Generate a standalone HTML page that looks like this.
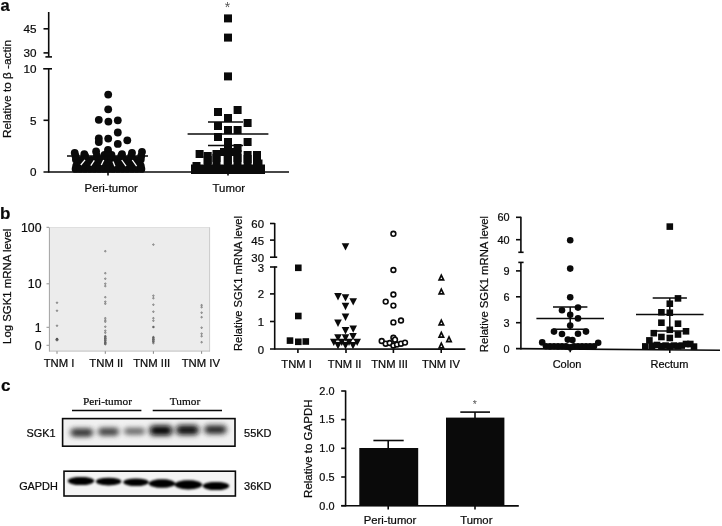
<!DOCTYPE html>
<html lang="en">
<head>
<meta charset="utf-8">
<title>SGK1 expression figure</title>
<style>
html,body{margin:0;padding:0;background:#fff;}
body{width:722px;height:526px;overflow:hidden;}
svg{display:block;font-family:"Liberation Sans", sans-serif;}
text{stroke:#0a0a0a;stroke-width:0.22px;}
text.ast{stroke:none;}
</style>
</head>
<body>
<svg width="722" height="526" viewBox="0 0 722 526">
<defs>
<filter id="blur0" x="-30%" y="-80%" width="160%" height="260%"><feGaussianBlur stdDeviation="2.2"/></filter>
<filter id="blur1" x="-30%" y="-80%" width="160%" height="260%"><feGaussianBlur stdDeviation="2.5 1.9"/></filter>
<filter id="blur2" x="-20%" y="-60%" width="140%" height="220%"><feGaussianBlur stdDeviation="1.0 0.8"/></filter>
</defs>
<rect width="722" height="526" fill="#fff"/>
<g id="panel-a">
<text x="0.6" y="11.3" font-size="16.5" text-anchor="start" fill="#0a0a0a" font-weight="bold">a</text>
<text x="10.8" y="89.0" font-size="11.8" text-anchor="middle" fill="#0a0a0a" transform="rotate(-90 10.8 89.0)">Relative to β -actin</text>
<line x1="48.7" y1="12.0" x2="48.7" y2="56.6" stroke="#0a0a0a" stroke-width="1.6"/>
<line x1="43.5" y1="28.8" x2="48.7" y2="28.8" stroke="#0a0a0a" stroke-width="1.6"/>
<line x1="43.5" y1="52.9" x2="48.7" y2="52.9" stroke="#0a0a0a" stroke-width="1.6"/>
<line x1="45.4" y1="56.9" x2="52.0" y2="56.9" stroke="#0a0a0a" stroke-width="1.6"/>
<line x1="48.7" y1="68.5" x2="48.7" y2="172.6" stroke="#0a0a0a" stroke-width="1.6"/>
<line x1="43.2" y1="68.8" x2="52.0" y2="68.8" stroke="#0a0a0a" stroke-width="1.6"/>
<line x1="43.5" y1="120.3" x2="48.7" y2="120.3" stroke="#0a0a0a" stroke-width="1.6"/>
<line x1="43.5" y1="172.0" x2="289.0" y2="172.0" stroke="#0a0a0a" stroke-width="1.7"/>
<text x="36.5" y="33.1" font-size="11.7" text-anchor="end" fill="#0a0a0a">45</text>
<text x="36.5" y="57.1" font-size="11.7" text-anchor="end" fill="#0a0a0a">30</text>
<text x="36.5" y="73.1" font-size="11.7" text-anchor="end" fill="#0a0a0a">10</text>
<text x="36.5" y="124.5" font-size="11.7" text-anchor="end" fill="#0a0a0a">5</text>
<text x="36.5" y="176.2" font-size="11.7" text-anchor="end" fill="#0a0a0a">0</text>
<line x1="108.0" y1="172.0" x2="108.0" y2="175.6" stroke="#0a0a0a" stroke-width="1.6"/>
<line x1="228.0" y1="172.0" x2="228.0" y2="175.4" stroke="#0a0a0a" stroke-width="1.6"/>
<text x="111.2" y="191.7" font-size="11.4" text-anchor="middle" fill="#0a0a0a">Peri-tumor</text>
<text x="228.8" y="191.7" font-size="11.4" text-anchor="middle" fill="#0a0a0a">Tumor</text>
<circle cx="108.2" cy="94.6" r="3.9" fill="#0a0a0a"/>
<circle cx="108.2" cy="109.3" r="3.9" fill="#0a0a0a"/>
<circle cx="98.8" cy="119.8" r="3.9" fill="#0a0a0a"/>
<circle cx="108.4" cy="121.6" r="3.9" fill="#0a0a0a"/>
<circle cx="117.8" cy="120.3" r="3.9" fill="#0a0a0a"/>
<circle cx="117.8" cy="132.5" r="3.9" fill="#0a0a0a"/>
<circle cx="98.8" cy="138.4" r="3.9" fill="#0a0a0a"/>
<circle cx="98.8" cy="142.0" r="3.9" fill="#0a0a0a"/>
<circle cx="108.2" cy="138.6" r="3.9" fill="#0a0a0a"/>
<circle cx="127.3" cy="140.3" r="3.9" fill="#0a0a0a"/>
<circle cx="117.8" cy="143.9" r="3.9" fill="#0a0a0a"/>
<circle cx="108.0" cy="149.8" r="3.9" fill="#0a0a0a"/>
<circle cx="74.7" cy="152.8" r="3.9" fill="#0a0a0a"/>
<circle cx="84.3" cy="154.2" r="3.9" fill="#0a0a0a"/>
<circle cx="96.1" cy="151.4" r="3.9" fill="#0a0a0a"/>
<circle cx="122.0" cy="154.2" r="3.9" fill="#0a0a0a"/>
<circle cx="132.0" cy="152.8" r="3.9" fill="#0a0a0a"/>
<circle cx="142.0" cy="151.8" r="3.9" fill="#0a0a0a"/>
<circle cx="108.0" cy="152.5" r="3.9" fill="#0a0a0a"/>
<circle cx="104.5" cy="155.0" r="3.9" fill="#0a0a0a"/>
<circle cx="111.5" cy="155.0" r="3.9" fill="#0a0a0a"/>
<circle cx="75.5" cy="156.0" r="3.9" fill="#0a0a0a"/>
<circle cx="75.9" cy="159.5" r="3.9" fill="#0a0a0a"/>
<circle cx="85.1" cy="156.0" r="3.9" fill="#0a0a0a"/>
<circle cx="85.5" cy="159.5" r="3.9" fill="#0a0a0a"/>
<circle cx="96.9" cy="156.0" r="3.9" fill="#0a0a0a"/>
<circle cx="97.3" cy="159.5" r="3.9" fill="#0a0a0a"/>
<circle cx="108.0" cy="156.0" r="3.9" fill="#0a0a0a"/>
<circle cx="108.0" cy="159.5" r="3.9" fill="#0a0a0a"/>
<circle cx="121.2" cy="156.0" r="3.9" fill="#0a0a0a"/>
<circle cx="120.8" cy="159.5" r="3.9" fill="#0a0a0a"/>
<circle cx="131.2" cy="156.0" r="3.9" fill="#0a0a0a"/>
<circle cx="130.8" cy="159.5" r="3.9" fill="#0a0a0a"/>
<circle cx="141.2" cy="156.0" r="3.9" fill="#0a0a0a"/>
<circle cx="140.8" cy="159.5" r="3.9" fill="#0a0a0a"/>
<circle cx="81.5" cy="159.8" r="3.9" fill="#0a0a0a"/>
<circle cx="86.4" cy="159.8" r="3.9" fill="#0a0a0a"/>
<circle cx="91.3" cy="159.8" r="3.9" fill="#0a0a0a"/>
<circle cx="96.2" cy="159.8" r="3.9" fill="#0a0a0a"/>
<circle cx="101.1" cy="159.8" r="3.9" fill="#0a0a0a"/>
<circle cx="106.0" cy="159.8" r="3.9" fill="#0a0a0a"/>
<circle cx="111.0" cy="159.8" r="3.9" fill="#0a0a0a"/>
<circle cx="115.9" cy="159.8" r="3.9" fill="#0a0a0a"/>
<circle cx="120.8" cy="159.8" r="3.9" fill="#0a0a0a"/>
<circle cx="125.7" cy="159.8" r="3.9" fill="#0a0a0a"/>
<circle cx="130.6" cy="159.8" r="3.9" fill="#0a0a0a"/>
<circle cx="135.5" cy="159.8" r="3.9" fill="#0a0a0a"/>
<circle cx="78.6" cy="162.8" r="3.9" fill="#0a0a0a"/>
<circle cx="83.2" cy="162.8" r="3.9" fill="#0a0a0a"/>
<circle cx="87.8" cy="162.8" r="3.9" fill="#0a0a0a"/>
<circle cx="92.4" cy="162.8" r="3.9" fill="#0a0a0a"/>
<circle cx="97.0" cy="162.8" r="3.9" fill="#0a0a0a"/>
<circle cx="101.6" cy="162.8" r="3.9" fill="#0a0a0a"/>
<circle cx="106.2" cy="162.8" r="3.9" fill="#0a0a0a"/>
<circle cx="110.8" cy="162.8" r="3.9" fill="#0a0a0a"/>
<circle cx="115.4" cy="162.8" r="3.9" fill="#0a0a0a"/>
<circle cx="120.0" cy="162.8" r="3.9" fill="#0a0a0a"/>
<circle cx="124.6" cy="162.8" r="3.9" fill="#0a0a0a"/>
<circle cx="129.2" cy="162.8" r="3.9" fill="#0a0a0a"/>
<circle cx="133.8" cy="162.8" r="3.9" fill="#0a0a0a"/>
<circle cx="138.4" cy="162.8" r="3.9" fill="#0a0a0a"/>
<circle cx="76.2" cy="165.8" r="3.9" fill="#0a0a0a"/>
<circle cx="80.8" cy="165.8" r="3.9" fill="#0a0a0a"/>
<circle cx="85.4" cy="165.8" r="3.9" fill="#0a0a0a"/>
<circle cx="90.0" cy="165.8" r="3.9" fill="#0a0a0a"/>
<circle cx="94.7" cy="165.8" r="3.9" fill="#0a0a0a"/>
<circle cx="99.3" cy="165.8" r="3.9" fill="#0a0a0a"/>
<circle cx="103.9" cy="165.8" r="3.9" fill="#0a0a0a"/>
<circle cx="108.5" cy="165.8" r="3.9" fill="#0a0a0a"/>
<circle cx="113.1" cy="165.8" r="3.9" fill="#0a0a0a"/>
<circle cx="117.7" cy="165.8" r="3.9" fill="#0a0a0a"/>
<circle cx="122.3" cy="165.8" r="3.9" fill="#0a0a0a"/>
<circle cx="127.0" cy="165.8" r="3.9" fill="#0a0a0a"/>
<circle cx="131.6" cy="165.8" r="3.9" fill="#0a0a0a"/>
<circle cx="136.2" cy="165.8" r="3.9" fill="#0a0a0a"/>
<circle cx="140.8" cy="165.8" r="3.9" fill="#0a0a0a"/>
<circle cx="75.6" cy="168.9" r="3.9" fill="#0a0a0a"/>
<circle cx="80.3" cy="168.9" r="3.9" fill="#0a0a0a"/>
<circle cx="85.0" cy="168.9" r="3.9" fill="#0a0a0a"/>
<circle cx="89.7" cy="168.9" r="3.9" fill="#0a0a0a"/>
<circle cx="94.4" cy="168.9" r="3.9" fill="#0a0a0a"/>
<circle cx="99.1" cy="168.9" r="3.9" fill="#0a0a0a"/>
<circle cx="103.8" cy="168.9" r="3.9" fill="#0a0a0a"/>
<circle cx="108.5" cy="168.9" r="3.9" fill="#0a0a0a"/>
<circle cx="113.2" cy="168.9" r="3.9" fill="#0a0a0a"/>
<circle cx="117.9" cy="168.9" r="3.9" fill="#0a0a0a"/>
<circle cx="122.6" cy="168.9" r="3.9" fill="#0a0a0a"/>
<circle cx="127.3" cy="168.9" r="3.9" fill="#0a0a0a"/>
<circle cx="132.0" cy="168.9" r="3.9" fill="#0a0a0a"/>
<circle cx="136.7" cy="168.9" r="3.9" fill="#0a0a0a"/>
<circle cx="141.4" cy="168.9" r="3.9" fill="#0a0a0a"/>
<line x1="85.0" y1="159.8" x2="80.8" y2="165.0" stroke="#fff" stroke-width="1.3"/>
<line x1="94.3" y1="160.4" x2="90.8" y2="165.6" stroke="#fff" stroke-width="1.3"/>
<line x1="103.7" y1="160.0" x2="101.3" y2="165.0" stroke="#fff" stroke-width="1.3"/>
<line x1="113.0" y1="161.6" x2="114.9" y2="166.2" stroke="#fff" stroke-width="1.3"/>
<line x1="121.7" y1="160.0" x2="126.0" y2="166.2" stroke="#fff" stroke-width="1.3"/>
<line x1="132.3" y1="160.0" x2="136.6" y2="166.2" stroke="#fff" stroke-width="1.3"/>
<line x1="67.0" y1="156.0" x2="148.0" y2="156.0" stroke="#0a0a0a" stroke-width="1.5"/>
<rect x="224.0" y="14.4" width="8" height="8" fill="#0a0a0a"/>
<rect x="224.0" y="33.6" width="8" height="8" fill="#0a0a0a"/>
<rect x="224.0" y="72.4" width="8" height="8" fill="#0a0a0a"/>
<rect x="214.0" y="108.0" width="8" height="8" fill="#0a0a0a"/>
<rect x="233.6" y="106.0" width="8" height="8" fill="#0a0a0a"/>
<rect x="224.0" y="114.0" width="8" height="8" fill="#0a0a0a"/>
<rect x="243.6" y="119.0" width="8" height="8" fill="#0a0a0a"/>
<rect x="214.0" y="122.0" width="8" height="8" fill="#0a0a0a"/>
<rect x="224.0" y="126.0" width="8" height="8" fill="#0a0a0a"/>
<rect x="233.6" y="126.0" width="8" height="8" fill="#0a0a0a"/>
<rect x="214.0" y="133.0" width="8" height="8" fill="#0a0a0a"/>
<rect x="224.0" y="138.0" width="8" height="8" fill="#0a0a0a"/>
<rect x="243.6" y="138.0" width="8" height="8" fill="#0a0a0a"/>
<rect x="233.6" y="144.0" width="8" height="8" fill="#0a0a0a"/>
<rect x="220.0" y="148.0" width="8" height="8" fill="#0a0a0a"/>
<rect x="195.6" y="150.0" width="8" height="8" fill="#0a0a0a"/>
<rect x="228.0" y="148.0" width="8" height="8" fill="#0a0a0a"/>
<rect x="224.0" y="143.0" width="8" height="8" fill="#0a0a0a"/>
<rect x="203.7" y="152.0" width="8" height="8" fill="#0a0a0a"/>
<rect x="203.7" y="156.0" width="8" height="8" fill="#0a0a0a"/>
<rect x="203.7" y="160.0" width="8" height="8" fill="#0a0a0a"/>
<rect x="212.5" y="150.0" width="8" height="8" fill="#0a0a0a"/>
<rect x="212.5" y="154.0" width="8" height="8" fill="#0a0a0a"/>
<rect x="212.5" y="158.0" width="8" height="8" fill="#0a0a0a"/>
<rect x="223.8" y="152.0" width="8" height="8" fill="#0a0a0a"/>
<rect x="223.8" y="156.0" width="8" height="8" fill="#0a0a0a"/>
<rect x="223.8" y="160.0" width="8" height="8" fill="#0a0a0a"/>
<rect x="233.5" y="150.0" width="8" height="8" fill="#0a0a0a"/>
<rect x="233.5" y="154.0" width="8" height="8" fill="#0a0a0a"/>
<rect x="233.5" y="158.0" width="8" height="8" fill="#0a0a0a"/>
<rect x="243.6" y="151.0" width="8" height="8" fill="#0a0a0a"/>
<rect x="243.6" y="155.0" width="8" height="8" fill="#0a0a0a"/>
<rect x="243.6" y="159.0" width="8" height="8" fill="#0a0a0a"/>
<rect x="253.0" y="151.0" width="8" height="8" fill="#0a0a0a"/>
<rect x="253.0" y="155.0" width="8" height="8" fill="#0a0a0a"/>
<rect x="253.0" y="159.0" width="8" height="8" fill="#0a0a0a"/>
<rect x="254.5" y="159.5" width="8" height="8" fill="#0a0a0a"/>
<rect x="192.5" y="162.0" width="8" height="8" fill="#0a0a0a"/>
<rect x="191" y="164.5" width="74" height="9.5" fill="#0a0a0a"/>
<line x1="208.0" y1="122.0" x2="243.0" y2="122.0" stroke="#0a0a0a" stroke-width="1.5"/>
<line x1="187.6" y1="134.0" x2="268.4" y2="134.0" stroke="#0a0a0a" stroke-width="1.5"/>
<line x1="208.0" y1="145.4" x2="243.0" y2="145.4" stroke="#0a0a0a" stroke-width="1.5"/>
<text x="227.4" y="11.6" font-size="14" text-anchor="middle" fill="#555" class="ast">*</text>
</g>
<g id="panel-b1">
<text x="0.0" y="219.0" font-size="17" text-anchor="start" fill="#0a0a0a" font-weight="bold">b</text>
<rect x="49" y="227.3" width="160.8" height="124" fill="#ececec"/>
<line x1="49.4" y1="227.0" x2="49.4" y2="351.5" stroke="#9a9a9a" stroke-width="0.9"/>
<line x1="49.0" y1="351.1" x2="210.0" y2="351.1" stroke="#b4b4b4" stroke-width="0.8"/>
<line x1="209.6" y1="227.3" x2="209.6" y2="351.4" stroke="#c0c0c0" stroke-width="0.8"/>
<line x1="49.0" y1="227.5" x2="210.0" y2="227.5" stroke="#d4d4d4" stroke-width="0.6"/>
<text x="11.0" y="286.3" font-size="11.4" text-anchor="middle" fill="#0a0a0a" transform="rotate(-90 11.0 286.3)">Log SGK1 mRNA level</text>
<text x="41.5" y="231.6" font-size="12.3" text-anchor="end" fill="#0a0a0a">100</text>
<line x1="46.5" y1="227.3" x2="49.0" y2="227.3" stroke="#777" stroke-width="0.8"/>
<text x="41.5" y="288.1" font-size="12.3" text-anchor="end" fill="#0a0a0a">10</text>
<line x1="46.5" y1="283.8" x2="49.0" y2="283.8" stroke="#777" stroke-width="0.8"/>
<text x="41.5" y="331.6" font-size="12.3" text-anchor="end" fill="#0a0a0a">1</text>
<line x1="46.5" y1="327.3" x2="49.0" y2="327.3" stroke="#777" stroke-width="0.8"/>
<text x="41.5" y="349.6" font-size="12.3" text-anchor="end" fill="#0a0a0a">0</text>
<line x1="46.5" y1="345.3" x2="49.0" y2="345.3" stroke="#777" stroke-width="0.8"/>
<line x1="57.0" y1="351.3" x2="57.0" y2="353.8" stroke="#777" stroke-width="0.9"/>
<text x="59.0" y="367.1" font-size="11.3" text-anchor="middle" fill="#0a0a0a">TNM I</text>
<line x1="105.3" y1="351.3" x2="105.3" y2="353.8" stroke="#777" stroke-width="0.9"/>
<text x="106.3" y="367.1" font-size="11.3" text-anchor="middle" fill="#0a0a0a">TNM II</text>
<line x1="153.4" y1="351.3" x2="153.4" y2="353.8" stroke="#777" stroke-width="0.9"/>
<text x="151.7" y="367.1" font-size="11.3" text-anchor="middle" fill="#0a0a0a">TNM III</text>
<line x1="201.6" y1="351.3" x2="201.6" y2="353.8" stroke="#777" stroke-width="0.9"/>
<text x="200.8" y="367.1" font-size="11.3" text-anchor="middle" fill="#0a0a0a">TNM IV</text>
<circle cx="57.0" cy="302.7" r="0.75" fill="#c4c4c4" stroke="#707070" stroke-width="0.8"/>
<circle cx="57.0" cy="310.7" r="0.75" fill="#c4c4c4" stroke="#707070" stroke-width="0.8"/>
<circle cx="57.0" cy="325.7" r="0.75" fill="#c4c4c4" stroke="#707070" stroke-width="0.8"/>
<circle cx="57.0" cy="339.7" r="1.2" fill="#c4c4c4" stroke="#444" stroke-width="0.8"/>
<circle cx="57" cy="339" r="1.2" fill="#555"/>
<circle cx="105.3" cy="251.2" r="0.75" fill="#c4c4c4" stroke="#707070" stroke-width="0.8"/>
<circle cx="105.3" cy="273.2" r="0.75" fill="#c4c4c4" stroke="#707070" stroke-width="0.8"/>
<circle cx="105.3" cy="278.7" r="0.75" fill="#c4c4c4" stroke="#707070" stroke-width="0.8"/>
<circle cx="105.3" cy="283.7" r="0.75" fill="#c4c4c4" stroke="#707070" stroke-width="0.8"/>
<circle cx="105.3" cy="286.1" r="0.75" fill="#c4c4c4" stroke="#707070" stroke-width="0.8"/>
<circle cx="105.3" cy="297.2" r="0.75" fill="#c4c4c4" stroke="#707070" stroke-width="0.8"/>
<circle cx="105.3" cy="301.7" r="0.75" fill="#c4c4c4" stroke="#707070" stroke-width="0.8"/>
<circle cx="105.3" cy="303.7" r="0.75" fill="#c4c4c4" stroke="#707070" stroke-width="0.8"/>
<circle cx="105.3" cy="318.2" r="0.75" fill="#c4c4c4" stroke="#707070" stroke-width="0.8"/>
<circle cx="105.3" cy="320.2" r="0.75" fill="#c4c4c4" stroke="#707070" stroke-width="0.8"/>
<circle cx="105.3" cy="321.7" r="0.75" fill="#c4c4c4" stroke="#707070" stroke-width="0.8"/>
<circle cx="105.3" cy="326.7" r="0.75" fill="#c4c4c4" stroke="#707070" stroke-width="0.8"/>
<circle cx="105.3" cy="330.7" r="0.75" fill="#c4c4c4" stroke="#707070" stroke-width="0.8"/>
<circle cx="105.3" cy="332.7" r="0.75" fill="#c4c4c4" stroke="#707070" stroke-width="0.8"/>
<circle cx="105.3" cy="336.7" r="0.75" fill="#c4c4c4" stroke="#707070" stroke-width="0.8"/>
<circle cx="105.3" cy="338.7" r="0.75" fill="#c4c4c4" stroke="#707070" stroke-width="0.8"/>
<circle cx="105.3" cy="340.7" r="0.75" fill="#c4c4c4" stroke="#707070" stroke-width="0.8"/>
<circle cx="105.3" cy="342.7" r="0.75" fill="#c4c4c4" stroke="#707070" stroke-width="0.8"/>
<circle cx="105.3" cy="344.2" r="0.75" fill="#c4c4c4" stroke="#707070" stroke-width="0.8"/>
<circle cx="153.4" cy="244.6" r="0.75" fill="#c4c4c4" stroke="#707070" stroke-width="0.8"/>
<circle cx="153.4" cy="295.7" r="0.75" fill="#c4c4c4" stroke="#707070" stroke-width="0.8"/>
<circle cx="153.4" cy="298.2" r="0.75" fill="#c4c4c4" stroke="#707070" stroke-width="0.8"/>
<circle cx="153.4" cy="304.7" r="0.75" fill="#c4c4c4" stroke="#707070" stroke-width="0.8"/>
<circle cx="153.4" cy="311.7" r="0.75" fill="#c4c4c4" stroke="#707070" stroke-width="0.8"/>
<circle cx="153.4" cy="318.2" r="0.75" fill="#c4c4c4" stroke="#707070" stroke-width="0.8"/>
<circle cx="153.4" cy="320.7" r="0.75" fill="#c4c4c4" stroke="#707070" stroke-width="0.8"/>
<circle cx="153.4" cy="337.7" r="0.75" fill="#c4c4c4" stroke="#707070" stroke-width="0.8"/>
<circle cx="153.4" cy="339.7" r="0.75" fill="#c4c4c4" stroke="#707070" stroke-width="0.8"/>
<circle cx="153.4" cy="341.7" r="0.75" fill="#c4c4c4" stroke="#707070" stroke-width="0.8"/>
<circle cx="153.4" cy="343.2" r="0.75" fill="#c4c4c4" stroke="#707070" stroke-width="0.8"/>
<circle cx="153.4" cy="327" r="1.2" fill="#666"/>
<circle cx="201.6" cy="305.2" r="0.75" fill="#c4c4c4" stroke="#707070" stroke-width="0.8"/>
<circle cx="201.6" cy="307.2" r="0.75" fill="#c4c4c4" stroke="#707070" stroke-width="0.8"/>
<circle cx="201.6" cy="312.7" r="0.75" fill="#c4c4c4" stroke="#707070" stroke-width="0.8"/>
<circle cx="201.6" cy="317.2" r="0.75" fill="#c4c4c4" stroke="#707070" stroke-width="0.8"/>
<circle cx="201.6" cy="327.7" r="0.75" fill="#c4c4c4" stroke="#707070" stroke-width="0.8"/>
<circle cx="201.6" cy="333.7" r="0.75" fill="#c4c4c4" stroke="#707070" stroke-width="0.8"/>
<circle cx="201.6" cy="336.2" r="0.75" fill="#c4c4c4" stroke="#707070" stroke-width="0.8"/>
<circle cx="201.6" cy="342.2" r="0.75" fill="#c4c4c4" stroke="#707070" stroke-width="0.8"/>
<circle cx="105.3" cy="336.1" r="0.75" fill="#c4c4c4" stroke="#4a4a4a" stroke-width="0.8"/>
<circle cx="105.3" cy="337.3" r="0.75" fill="#c4c4c4" stroke="#4a4a4a" stroke-width="0.8"/>
<circle cx="105.3" cy="338.5" r="0.75" fill="#c4c4c4" stroke="#4a4a4a" stroke-width="0.8"/>
<circle cx="105.3" cy="339.7" r="0.75" fill="#c4c4c4" stroke="#4a4a4a" stroke-width="0.8"/>
<circle cx="105.3" cy="340.9" r="0.75" fill="#c4c4c4" stroke="#4a4a4a" stroke-width="0.8"/>
<circle cx="105.3" cy="342.1" r="0.75" fill="#c4c4c4" stroke="#4a4a4a" stroke-width="0.8"/>
<circle cx="105.3" cy="343.1" r="0.75" fill="#c4c4c4" stroke="#4a4a4a" stroke-width="0.8"/>
<circle cx="105.3" cy="343.9" r="0.75" fill="#c4c4c4" stroke="#4a4a4a" stroke-width="0.8"/>
<circle cx="153.4" cy="337.1" r="0.75" fill="#c4c4c4" stroke="#4a4a4a" stroke-width="0.8"/>
<circle cx="153.4" cy="338.3" r="0.75" fill="#c4c4c4" stroke="#4a4a4a" stroke-width="0.8"/>
<circle cx="153.4" cy="339.5" r="0.75" fill="#c4c4c4" stroke="#4a4a4a" stroke-width="0.8"/>
<circle cx="153.4" cy="340.7" r="0.75" fill="#c4c4c4" stroke="#4a4a4a" stroke-width="0.8"/>
<circle cx="153.4" cy="341.9" r="0.75" fill="#c4c4c4" stroke="#4a4a4a" stroke-width="0.8"/>
</g>
<g id="panel-b2">
<text x="242.3" y="283.5" font-size="11.2" text-anchor="middle" fill="#0a0a0a" transform="rotate(-90 242.3 283.5)">Relative SGK1 mRNA level</text>
<line x1="274.7" y1="223.0" x2="274.7" y2="257.5" stroke="#0a0a0a" stroke-width="1.6"/>
<line x1="270.0" y1="223.5" x2="274.7" y2="223.5" stroke="#0a0a0a" stroke-width="1.6"/>
<line x1="270.0" y1="240.1" x2="274.7" y2="240.1" stroke="#0a0a0a" stroke-width="1.6"/>
<line x1="270.0" y1="257.2" x2="277.2" y2="257.2" stroke="#0a0a0a" stroke-width="1.6"/>
<line x1="274.7" y1="266.5" x2="274.7" y2="349.6" stroke="#0a0a0a" stroke-width="1.6"/>
<line x1="270.0" y1="267.0" x2="277.2" y2="267.0" stroke="#0a0a0a" stroke-width="1.6"/>
<line x1="270.0" y1="293.9" x2="274.7" y2="293.9" stroke="#0a0a0a" stroke-width="1.6"/>
<line x1="270.0" y1="321.5" x2="274.7" y2="321.5" stroke="#0a0a0a" stroke-width="1.6"/>
<line x1="270.0" y1="349.0" x2="465.4" y2="349.1" stroke="#0a0a0a" stroke-width="1.6"/>
<text x="264.0" y="228.0" font-size="11.4" text-anchor="end" fill="#0a0a0a">60</text>
<text x="264.0" y="244.6" font-size="11.4" text-anchor="end" fill="#0a0a0a">45</text>
<text x="264.0" y="261.7" font-size="11.4" text-anchor="end" fill="#0a0a0a">30</text>
<text x="264.0" y="272.0" font-size="11.4" text-anchor="end" fill="#0a0a0a">3</text>
<text x="264.0" y="298.4" font-size="11.4" text-anchor="end" fill="#0a0a0a">2</text>
<text x="264.0" y="326.0" font-size="11.4" text-anchor="end" fill="#0a0a0a">1</text>
<text x="264.0" y="353.5" font-size="11.4" text-anchor="end" fill="#0a0a0a">0</text>
<line x1="297.9" y1="349.0" x2="297.9" y2="353.0" stroke="#0a0a0a" stroke-width="1.6"/>
<text x="296.6" y="367.8" font-size="11.2" text-anchor="middle" fill="#0a0a0a">TNM I</text>
<line x1="346.0" y1="349.0" x2="346.0" y2="353.0" stroke="#0a0a0a" stroke-width="1.6"/>
<text x="344.6" y="367.8" font-size="11.2" text-anchor="middle" fill="#0a0a0a">TNM II</text>
<line x1="393.4" y1="349.0" x2="393.4" y2="353.0" stroke="#0a0a0a" stroke-width="1.6"/>
<text x="389.6" y="367.8" font-size="11.2" text-anchor="middle" fill="#0a0a0a">TNM III</text>
<line x1="441.2" y1="349.0" x2="441.2" y2="353.0" stroke="#0a0a0a" stroke-width="1.6"/>
<text x="440.9" y="367.8" font-size="11.2" text-anchor="middle" fill="#0a0a0a">TNM IV</text>
<rect x="295.0" y="264.5" width="6.6" height="6.6" fill="#0a0a0a"/>
<rect x="295.0" y="312.7" width="6.6" height="6.6" fill="#0a0a0a"/>
<rect x="286.7" y="337.3" width="6.6" height="6.6" fill="#0a0a0a"/>
<rect x="295.0" y="338.5" width="6.6" height="6.6" fill="#0a0a0a"/>
<rect x="302.5" y="338.2" width="6.6" height="6.6" fill="#0a0a0a"/>
<polygon points="341.7,243.2 349.3,243.2 345.5,250.6" fill="#0a0a0a"/>
<polygon points="334.2,293.0 341.8,293.0 338.0,300.4" fill="#0a0a0a"/>
<polygon points="341.7,294.2 349.3,294.2 345.5,301.6" fill="#0a0a0a"/>
<polygon points="349.4,298.2 357.0,298.2 353.2,305.6" fill="#0a0a0a"/>
<polygon points="341.7,302.8 349.3,302.8 345.5,310.2" fill="#0a0a0a"/>
<polygon points="341.7,313.5 349.3,313.5 345.5,320.9" fill="#0a0a0a"/>
<polygon points="334.2,319.6 341.8,319.6 338.0,327.0" fill="#0a0a0a"/>
<polygon points="349.4,325.4 357.0,325.4 353.2,332.8" fill="#0a0a0a"/>
<polygon points="341.7,327.0 349.3,327.0 345.5,334.4" fill="#0a0a0a"/>
<polygon points="349.2,332.9 356.8,332.9 353.0,340.3" fill="#0a0a0a"/>
<polygon points="334.2,334.2 341.8,334.2 338.0,341.6" fill="#0a0a0a"/>
<polygon points="341.7,334.2 349.3,334.2 345.5,341.6" fill="#0a0a0a"/>
<polygon points="330.0,338.7 337.6,338.7 333.8,346.1" fill="#0a0a0a"/>
<polygon points="338.0,338.7 345.6,338.7 341.8,346.1" fill="#0a0a0a"/>
<polygon points="345.2,338.7 352.8,338.7 349.0,346.1" fill="#0a0a0a"/>
<polygon points="353.4,338.7 361.0,338.7 357.2,346.1" fill="#0a0a0a"/>
<polygon points="334.2,341.9 341.8,341.9 338.0,349.3" fill="#0a0a0a"/>
<polygon points="341.7,341.9 349.3,341.9 345.5,349.3" fill="#0a0a0a"/>
<polygon points="349.2,341.9 356.8,341.9 353.0,349.3" fill="#0a0a0a"/>
<circle cx="393.4" cy="233.8" r="2.4" fill="#fff" stroke="#0a0a0a" stroke-width="1.6"/>
<circle cx="393.4" cy="270.0" r="2.4" fill="#fff" stroke="#0a0a0a" stroke-width="1.6"/>
<circle cx="393.4" cy="294.5" r="2.4" fill="#fff" stroke="#0a0a0a" stroke-width="1.6"/>
<circle cx="385.7" cy="301.6" r="2.4" fill="#fff" stroke="#0a0a0a" stroke-width="1.6"/>
<circle cx="393.4" cy="305.6" r="2.4" fill="#fff" stroke="#0a0a0a" stroke-width="1.6"/>
<circle cx="393.4" cy="322.4" r="2.4" fill="#fff" stroke="#0a0a0a" stroke-width="1.6"/>
<circle cx="401.0" cy="320.5" r="2.4" fill="#fff" stroke="#0a0a0a" stroke-width="1.6"/>
<circle cx="393.4" cy="337.8" r="2.4" fill="#fff" stroke="#0a0a0a" stroke-width="1.6"/>
<circle cx="395.0" cy="339.7" r="2.4" fill="#fff" stroke="#0a0a0a" stroke-width="1.6"/>
<circle cx="381.7" cy="341.0" r="2.4" fill="#fff" stroke="#0a0a0a" stroke-width="1.6"/>
<circle cx="385.7" cy="343.7" r="2.4" fill="#fff" stroke="#0a0a0a" stroke-width="1.6"/>
<circle cx="389.7" cy="343.0" r="2.4" fill="#fff" stroke="#0a0a0a" stroke-width="1.6"/>
<circle cx="393.4" cy="345.5" r="2.4" fill="#fff" stroke="#0a0a0a" stroke-width="1.6"/>
<circle cx="397.0" cy="344.5" r="2.4" fill="#fff" stroke="#0a0a0a" stroke-width="1.6"/>
<circle cx="401.0" cy="343.7" r="2.4" fill="#fff" stroke="#0a0a0a" stroke-width="1.6"/>
<circle cx="405.0" cy="342.6" r="2.4" fill="#fff" stroke="#0a0a0a" stroke-width="1.6"/>
<polygon points="439.1,279.9 443.6,279.9 441.3,275.2" fill="#fff" stroke="#0a0a0a" stroke-width="1.7" stroke-linejoin="miter"/>
<polygon points="439.1,293.8 443.6,293.8 441.3,289.1" fill="#fff" stroke="#0a0a0a" stroke-width="1.7" stroke-linejoin="miter"/>
<polygon points="439.1,324.9 443.6,324.9 441.3,320.2" fill="#fff" stroke="#0a0a0a" stroke-width="1.7" stroke-linejoin="miter"/>
<polygon points="439.1,337.1 443.6,337.1 441.3,332.4" fill="#fff" stroke="#0a0a0a" stroke-width="1.7" stroke-linejoin="miter"/>
<polygon points="446.8,341.6 451.2,341.6 449.0,337.0" fill="#fff" stroke="#0a0a0a" stroke-width="1.7" stroke-linejoin="miter"/>
<polygon points="439.1,347.8 443.6,347.8 441.3,343.1" fill="#fff" stroke="#0a0a0a" stroke-width="1.7" stroke-linejoin="miter"/>
</g>
<g id="panel-b3">
<text x="488.0" y="284.0" font-size="11.3" text-anchor="middle" fill="#0a0a0a" transform="rotate(-90 488.0 284.0)">Relative SGK1 mRNA level</text>
<line x1="520.9" y1="216.8" x2="520.9" y2="252.8" stroke="#0a0a0a" stroke-width="1.6"/>
<line x1="516.0" y1="217.3" x2="520.9" y2="217.3" stroke="#0a0a0a" stroke-width="1.6"/>
<line x1="516.0" y1="239.7" x2="520.9" y2="239.7" stroke="#0a0a0a" stroke-width="1.6"/>
<line x1="518.3" y1="252.3" x2="523.6" y2="252.3" stroke="#0a0a0a" stroke-width="1.6"/>
<line x1="520.9" y1="262.0" x2="520.9" y2="349.6" stroke="#0a0a0a" stroke-width="1.6"/>
<line x1="518.3" y1="262.4" x2="523.6" y2="262.4" stroke="#0a0a0a" stroke-width="1.6"/>
<line x1="516.0" y1="270.9" x2="520.9" y2="270.9" stroke="#0a0a0a" stroke-width="1.6"/>
<line x1="516.0" y1="296.8" x2="520.9" y2="296.8" stroke="#0a0a0a" stroke-width="1.6"/>
<line x1="516.0" y1="322.7" x2="520.9" y2="322.7" stroke="#0a0a0a" stroke-width="1.6"/>
<line x1="516.0" y1="348.6" x2="720.0" y2="350.2" stroke="#0a0a0a" stroke-width="1.6"/>
<text x="509.5" y="221.1" font-size="10.9" text-anchor="end" fill="#0a0a0a">60</text>
<text x="509.5" y="243.5" font-size="10.9" text-anchor="end" fill="#0a0a0a">40</text>
<text x="509.5" y="274.7" font-size="10.9" text-anchor="end" fill="#0a0a0a">9</text>
<text x="509.5" y="300.6" font-size="10.9" text-anchor="end" fill="#0a0a0a">6</text>
<text x="509.5" y="326.5" font-size="10.9" text-anchor="end" fill="#0a0a0a">3</text>
<text x="509.5" y="352.8" font-size="10.9" text-anchor="end" fill="#0a0a0a">0</text>
<line x1="570.2" y1="349.0" x2="570.2" y2="352.3" stroke="#0a0a0a" stroke-width="1.6"/>
<line x1="669.8" y1="349.6" x2="669.8" y2="353.0" stroke="#0a0a0a" stroke-width="1.6"/>
<text x="567.0" y="368.0" font-size="11" text-anchor="middle" fill="#0a0a0a">Colon</text>
<text x="669.4" y="368.0" font-size="11" text-anchor="middle" fill="#0a0a0a">Rectum</text>
<circle cx="570.2" cy="240.2" r="3.3" fill="#0a0a0a"/>
<circle cx="570.2" cy="268.6" r="3.3" fill="#0a0a0a"/>
<circle cx="570.2" cy="297.3" r="3.3" fill="#0a0a0a"/>
<circle cx="578.0" cy="307.6" r="3.3" fill="#0a0a0a"/>
<circle cx="562.0" cy="310.3" r="3.3" fill="#0a0a0a"/>
<circle cx="570.2" cy="314.8" r="3.3" fill="#0a0a0a"/>
<circle cx="578.0" cy="318.4" r="3.3" fill="#0a0a0a"/>
<circle cx="570.2" cy="325.6" r="3.3" fill="#0a0a0a"/>
<circle cx="554.0" cy="331.6" r="3.3" fill="#0a0a0a"/>
<circle cx="586.0" cy="331.6" r="3.3" fill="#0a0a0a"/>
<circle cx="562.0" cy="334.0" r="3.3" fill="#0a0a0a"/>
<circle cx="578.0" cy="333.8" r="3.3" fill="#0a0a0a"/>
<circle cx="567.8" cy="339.6" r="3.3" fill="#0a0a0a"/>
<circle cx="572.4" cy="340.0" r="3.3" fill="#0a0a0a"/>
<circle cx="542.2" cy="342.4" r="3.3" fill="#0a0a0a"/>
<circle cx="598.2" cy="342.8" r="3.3" fill="#0a0a0a"/>
<circle cx="546.0" cy="346.2" r="3.3" fill="#0a0a0a"/>
<circle cx="550.0" cy="346.4" r="3.3" fill="#0a0a0a"/>
<circle cx="554.0" cy="346.2" r="3.3" fill="#0a0a0a"/>
<circle cx="558.0" cy="346.4" r="3.3" fill="#0a0a0a"/>
<circle cx="562.0" cy="346.2" r="3.3" fill="#0a0a0a"/>
<circle cx="566.0" cy="346.4" r="3.3" fill="#0a0a0a"/>
<circle cx="570.2" cy="347.4" r="3.3" fill="#0a0a0a"/>
<circle cx="574.0" cy="346.4" r="3.3" fill="#0a0a0a"/>
<circle cx="578.0" cy="346.2" r="3.3" fill="#0a0a0a"/>
<circle cx="582.0" cy="346.4" r="3.3" fill="#0a0a0a"/>
<circle cx="586.0" cy="346.2" r="3.3" fill="#0a0a0a"/>
<circle cx="590.0" cy="346.4" r="3.3" fill="#0a0a0a"/>
<circle cx="594.0" cy="346.2" r="3.3" fill="#0a0a0a"/>
<line x1="553.0" y1="307.0" x2="587.4" y2="307.0" stroke="#0a0a0a" stroke-width="1.5"/>
<line x1="536.4" y1="318.4" x2="604.0" y2="318.4" stroke="#0a0a0a" stroke-width="1.5"/>
<line x1="553.0" y1="329.2" x2="587.4" y2="329.2" stroke="#0a0a0a" stroke-width="1.5"/>
<line x1="570.2" y1="307.0" x2="570.2" y2="329.2" stroke="#0a0a0a" stroke-width="1.5"/>
<rect x="666.5" y="223.3" width="6.6" height="6.6" fill="#0a0a0a"/>
<rect x="674.7" y="295.1" width="6.6" height="6.6" fill="#0a0a0a"/>
<rect x="666.5" y="300.4" width="6.6" height="6.6" fill="#0a0a0a"/>
<rect x="658.1" y="309.0" width="6.6" height="6.6" fill="#0a0a0a"/>
<rect x="666.5" y="309.4" width="6.6" height="6.6" fill="#0a0a0a"/>
<rect x="658.1" y="319.4" width="6.6" height="6.6" fill="#0a0a0a"/>
<rect x="674.7" y="320.4" width="6.6" height="6.6" fill="#0a0a0a"/>
<rect x="666.5" y="326.5" width="6.6" height="6.6" fill="#0a0a0a"/>
<rect x="682.7" y="328.0" width="6.6" height="6.6" fill="#0a0a0a"/>
<rect x="650.5" y="329.9" width="6.6" height="6.6" fill="#0a0a0a"/>
<rect x="674.7" y="331.2" width="6.6" height="6.6" fill="#0a0a0a"/>
<rect x="658.1" y="333.7" width="6.6" height="6.6" fill="#0a0a0a"/>
<rect x="666.5" y="334.7" width="6.6" height="6.6" fill="#0a0a0a"/>
<rect x="646.1" y="337.1" width="6.6" height="6.6" fill="#0a0a0a"/>
<rect x="642.0" y="343.1" width="6.6" height="6.6" fill="#0a0a0a"/>
<rect x="648.7" y="342.5" width="6.6" height="6.6" fill="#0a0a0a"/>
<rect x="653.7" y="341.7" width="6.6" height="6.6" fill="#0a0a0a"/>
<rect x="658.1" y="342.9" width="6.6" height="6.6" fill="#0a0a0a"/>
<rect x="662.3" y="342.3" width="6.6" height="6.6" fill="#0a0a0a"/>
<rect x="666.5" y="343.1" width="6.6" height="6.6" fill="#0a0a0a"/>
<rect x="670.7" y="342.3" width="6.6" height="6.6" fill="#0a0a0a"/>
<rect x="674.7" y="342.9" width="6.6" height="6.6" fill="#0a0a0a"/>
<rect x="678.4" y="342.3" width="6.6" height="6.6" fill="#0a0a0a"/>
<rect x="682.7" y="340.7" width="6.6" height="6.6" fill="#0a0a0a"/>
<rect x="687.0" y="340.7" width="6.6" height="6.6" fill="#0a0a0a"/>
<rect x="690.7" y="343.3" width="6.6" height="6.6" fill="#0a0a0a"/>
<line x1="652.7" y1="298.0" x2="686.9" y2="298.0" stroke="#0a0a0a" stroke-width="1.5"/>
<line x1="636.0" y1="314.6" x2="703.6" y2="314.6" stroke="#0a0a0a" stroke-width="1.5"/>
<line x1="652.7" y1="331.0" x2="686.9" y2="331.0" stroke="#0a0a0a" stroke-width="1.5"/>
<line x1="669.8" y1="298.0" x2="669.8" y2="331.0" stroke="#0a0a0a" stroke-width="1.5"/>
</g>
<g id="panel-c1">
<text x="1.0" y="391.3" font-size="17" text-anchor="start" fill="#0a0a0a" font-weight="bold">c</text>
<text x="107.5" y="404.6" font-size="11.3" text-anchor="middle" fill="#0a0a0a" font-family='"Liberation Serif", serif'>Peri-tumor</text>
<text x="185.0" y="404.6" font-size="11.3" text-anchor="middle" fill="#0a0a0a" font-family='"Liberation Serif", serif'>Tumor</text>
<line x1="72.0" y1="410.5" x2="141.4" y2="410.5" stroke="#0a0a0a" stroke-width="1.5"/>
<line x1="152.7" y1="410.5" x2="222.0" y2="410.5" stroke="#0a0a0a" stroke-width="1.5"/>
<text x="41.0" y="437.0" font-size="10.9" text-anchor="middle" fill="#0a0a0a">SGK1</text>
<text x="38.5" y="489.5" font-size="10.9" text-anchor="middle" fill="#0a0a0a">GAPDH</text>
<text x="257.8" y="437.0" font-size="11" text-anchor="middle" fill="#0a0a0a">55KD</text>
<text x="257.8" y="490.0" font-size="11" text-anchor="middle" fill="#0a0a0a">36KD</text>
<rect x="62.6" y="418.6" width="172.4" height="27.6" fill="#f1f1f1" stroke="#0a0a0a" stroke-width="1.6"/>
<rect x="64" y="471.2" width="171.4" height="24.8" fill="#f4f4f4" stroke="#0a0a0a" stroke-width="1.6"/>
<g filter="url(#blur0)" opacity="0.8">
<rect x="68.3" y="426.3" width="27" height="12" rx="6.0" fill="#c6c6c6"/>
<rect x="96.1" y="425.6" width="25" height="12" rx="6.0" fill="#cccccc"/>
<rect x="122.0" y="425.7" width="25" height="11" rx="5.5" fill="#d4d4d4"/>
<rect x="147.0" y="423.1" width="28" height="15" rx="7.5" fill="#b0b0b0"/>
<rect x="173.4" y="422.5" width="28" height="15" rx="7.5" fill="#b6b6b6"/>
<rect x="202.0" y="422.6" width="27" height="14" rx="7.0" fill="#c2c2c2"/>
</g>
<g filter="url(#blur1)">
<rect x="71.3" y="428.8" width="21" height="7.6" rx="3.8" fill="#3c3c3c"/>
<rect x="98.8" y="428.1" width="19.5" height="7.4" rx="3.7" fill="#4e4e4e"/>
<rect x="124.8" y="427.9" width="19.5" height="6.6" rx="3.3" fill="#727272"/>
<rect x="150.2" y="426.1" width="21.5" height="9" rx="4.5" fill="#0c0c0c"/>
<rect x="176.7" y="425.7" width="21.5" height="8.6" rx="4.3" fill="#161616"/>
<rect x="205.2" y="425.8" width="20.5" height="7.6" rx="3.8" fill="#2e2e2e"/>
</g>
<g filter="url(#blur2)">
<ellipse cx="81" cy="481" rx="13.25" ry="4.1" fill="#060606"/>
<rect x="73.0" y="477.4" width="15.9" height="7.2" rx="3.3" fill="#060606"/>
<ellipse cx="108.6" cy="481.6" rx="12.75" ry="3.9" fill="#060606"/>
<rect x="100.9" y="478.2" width="15.3" height="6.9" rx="3.1" fill="#060606"/>
<ellipse cx="136" cy="482.3" rx="12.75" ry="3.8" fill="#060606"/>
<rect x="128.3" y="479.0" width="15.3" height="6.7" rx="3.0" fill="#060606"/>
<ellipse cx="162" cy="483.5" rx="13.25" ry="4.3" fill="#060606"/>
<rect x="154.1" y="479.7" width="15.9" height="7.6" rx="3.4" fill="#060606"/>
<ellipse cx="188.4" cy="484.8" rx="13.75" ry="4.6" fill="#060606"/>
<rect x="180.2" y="480.8" width="16.5" height="8.1" rx="3.7" fill="#060606"/>
<ellipse cx="216" cy="486" rx="13.25" ry="4.1" fill="#060606"/>
<rect x="208.1" y="482.4" width="15.9" height="7.2" rx="3.3" fill="#060606"/>
</g>
</g>
<g id="panel-c2">
<text x="311.6" y="448.7" font-size="11.5" text-anchor="middle" fill="#0a0a0a" transform="rotate(-90 311.6 448.7)">Relative to GAPDH</text>
<line x1="345.6" y1="390.5" x2="345.6" y2="506.4" stroke="#0a0a0a" stroke-width="1.6"/>
<line x1="341.2" y1="391.0" x2="345.6" y2="391.0" stroke="#0a0a0a" stroke-width="1.6"/>
<text x="334.5" y="394.8" font-size="10.9" text-anchor="end" fill="#0a0a0a">2.0</text>
<line x1="341.2" y1="419.6" x2="345.6" y2="419.6" stroke="#0a0a0a" stroke-width="1.6"/>
<text x="334.5" y="423.4" font-size="10.9" text-anchor="end" fill="#0a0a0a">1.5</text>
<line x1="341.2" y1="448.3" x2="345.6" y2="448.3" stroke="#0a0a0a" stroke-width="1.6"/>
<text x="334.5" y="452.1" font-size="10.9" text-anchor="end" fill="#0a0a0a">1.0</text>
<line x1="341.2" y1="477.0" x2="345.6" y2="477.0" stroke="#0a0a0a" stroke-width="1.6"/>
<text x="334.5" y="480.8" font-size="10.9" text-anchor="end" fill="#0a0a0a">0.5</text>
<line x1="341.2" y1="505.7" x2="345.6" y2="505.7" stroke="#0a0a0a" stroke-width="1.6"/>
<text x="334.5" y="509.5" font-size="10.9" text-anchor="end" fill="#0a0a0a">0.0</text>
<line x1="341.2" y1="505.8" x2="518.8" y2="505.9" stroke="#0a0a0a" stroke-width="1.6"/>
<rect x="359.3" y="448" width="58.9" height="57.7" fill="#0a0a0a"/>
<rect x="446" y="417.6" width="58.4" height="88.1" fill="#0a0a0a"/>
<line x1="388.2" y1="440.5" x2="388.2" y2="449.0" stroke="#0a0a0a" stroke-width="1.6"/>
<line x1="373.4" y1="440.5" x2="403.7" y2="440.5" stroke="#0a0a0a" stroke-width="1.6"/>
<line x1="475.0" y1="412.1" x2="475.0" y2="418.0" stroke="#0a0a0a" stroke-width="1.6"/>
<line x1="460.3" y1="412.1" x2="490.0" y2="412.1" stroke="#0a0a0a" stroke-width="1.6"/>
<line x1="388.2" y1="505.7" x2="388.2" y2="509.5" stroke="#0a0a0a" stroke-width="1.6"/>
<line x1="475.0" y1="505.7" x2="475.0" y2="509.5" stroke="#0a0a0a" stroke-width="1.6"/>
<text x="474.8" y="408.4" font-size="10.5" text-anchor="middle" fill="#555" class="ast">*</text>
<text x="390.0" y="524.2" font-size="11.3" text-anchor="middle" fill="#0a0a0a">Peri-tumor</text>
<text x="476.3" y="524.2" font-size="11.3" text-anchor="middle" fill="#0a0a0a">Tumor</text>
</g>
</svg>
</body>
</html>
